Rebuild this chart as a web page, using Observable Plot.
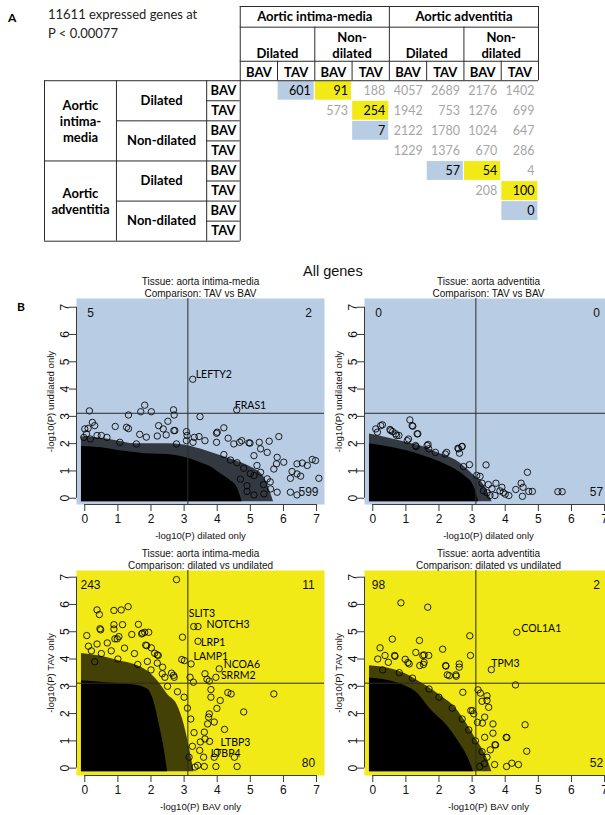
<!DOCTYPE html>
<html><head><meta charset="utf-8">
<script src="https://cdn.jsdelivr.net/npm/d3@7"></script>
<script src="https://cdn.jsdelivr.net/npm/@observablehq/plot@0.6"></script>
<style>
body{margin:0;background:#fff;}
#fig{position:relative;width:605px;height:815px;overflow:hidden;background:#fff;}
.abs{position:absolute;white-space:nowrap;}
</style></head><body><div id="fig"></div>
<script>
// ---------------- Part A data ----------------
const tissueNames = ["Aortic intima-media", "Aortic adventitia"];
const tissueRowLabels = ["Aortic\nintima-\nmedia", "Aortic\nadventitia"];
const dilationColLabels = ["Dilated", "Non-\ndilated"];
const dilationRowLabels = ["Dilated", "Non-dilated"];
const valveNames = ["BAV", "TAV"];
const overlapCounts = [
  [601, 91, 188, 4057, 2689, 2176, 1402],
  [573, 254, 1942, 753, 1276, 699],
  [7, 2122, 1780, 1024, 647],
  [1229, 1376, 670, 286],
  [57, 54, 4],
  [208, 100],
  [0]
];
const introLines = ["11611 expressed genes at", "P < 0.00077"];

// ---------------- Part B data ----------------
const threshold = -Math.log10(0.00077);
const panelTitles = [
  ["Tissue: aorta intima-media", "Comparison: TAV vs BAV"],
  ["Tissue: aorta adventitia", "Comparison: TAV vs BAV"],
  ["Tissue: aorta intima-media", "Comparison: dilated vs undilated"],
  ["Tissue: aorta adventitia", "Comparison: dilated vs undilated"]
];
const xLabels = ["-log10(P) dilated only", "-log10(P) dilated only", "-log10(P) BAV only", "-log10(P) BAV only"];
const yLabels = ["-log10(P) undilated only", "-log10(P) undilated only", "-log10(P) TAV only", "-log10(P) TAV only"];
// quadrant counts: [top-left, top-right, bottom-right]
const imTavBavCounts = [5, 2, 599];
const adTavBavCounts = [0, 0, 57];
const imDilCounts = [243, 11, 80];
const adDilCounts = [98, 2, 52];

// dense cloud envelopes [x, top y] (solid core and half-dense halo)
const imTavBavCore = [[-0.1,1.9],[0.5,1.85],[1.0,1.75],[1.5,1.68],[2.0,1.62],[2.5,1.6],[3.0,1.5],[3.4,1.35],[3.8,1.15],[4.1,0.9],[4.4,0.65],[4.6,0.4],[4.75,-0.12]];
const imTavBavHalo = [[-0.1,2.25],[0.5,2.2],[1.0,2.1],[1.5,2.0],[2.0,2.0],[2.5,2.0],[3.0,1.95],[3.5,1.8],[4.0,1.6],[4.5,1.4],[5.0,1.15],[5.4,0.8],[5.7,-0.12]];
const adTavBavCore = [[-0.1,2.0],[0.5,1.88],[1.0,1.75],[1.5,1.57],[2.0,1.35],[2.5,1.05],[2.8,0.8],[3.05,0.45],[3.2,-0.12]];
const adTavBavHalo = [[-0.1,2.35],[0.5,2.2],[1.0,2.05],[1.5,1.9],[2.0,1.65],[2.5,1.4],[3.0,0.9],[3.4,0.4],[3.6,-0.12]];
const imDilCore = [[-0.1,3.2],[0.5,3.15],[1.0,3.1],[1.5,3.05],[1.9,2.9],[2.1,2.4],[2.25,1.6],[2.4,0.7],[2.5,-0.13]];
const imDilHalo = [[-0.1,4.2],[0.5,4.1],[1.0,3.95],[1.5,3.8],[1.9,3.55],[2.2,3.2],[2.5,2.7],[2.8,2.3],[3.0,1.6],[3.15,0.8],[3.3,-0.13]];
const adDilCore = [[-0.1,3.3],[0.5,3.2],[1.0,3.0],[1.3,2.8],[1.75,2.15],[2.25,1.55],[2.55,1.05],[2.85,0.45],[3.05,-0.13]];
const adDilHalo = [[-0.1,3.75],[0.5,3.65],[1.0,3.45],[1.5,3.1],[2.0,2.7],[2.5,2.2],[2.8,1.7],[3.1,1.1],[3.4,0.5],[3.6,-0.13]];

// individually visible points [x, y]
const imTavBavPts = [[0.14,3.20],[1.81,3.41],[1.69,3.17],[2.01,3.17],[1.32,3.05],[2.68,3.24],[2.70,3.05],[3.48,2.99],[3.07,2.44],[3.09,2.30],[0.23,2.78],[0.10,2.56],[0.05,2.36],[0.92,2.63],[1.26,2.60],[1.32,2.55],[1.66,2.34],[2.23,2.66],[2.37,2.54],[2.51,2.82],[2.69,2.48],[2.46,2.32],[2.19,2.28],[3.31,2.23],[3.45,2.26],[4.00,2.42],[4.20,2.58],[3.98,2.05],[4.33,2.20],[4.50,1.99],[4.74,2.11],[4.96,2.03],[5.27,2.05],[5.57,2.09],[5.86,2.26],[5.31,1.81],[5.51,1.68],[5.11,1.56],[5.81,1.50],[5.79,1.26],[6.01,1.32],[6.41,1.26],[6.57,1.29],[6.87,1.42],[6.97,1.38],[6.26,0.98],[6.41,0.89],[6.21,0.73],[6.52,0.81],[6.72,1.20],[7.07,0.73],[6.41,0.12],[6.21,0.22],[5.61,0.34],[5.81,0.22],[5.41,0.16],[5.11,0.12],[5.31,0.95],[5.51,0.71],[4.90,0.46],[5.71,1.07],[5.11,0.83],[-0.03,2.23],[0.17,2.17],[0.37,2.30],[0.67,2.23],[0.30,2.66],[2.72,2.48],[3.63,2.11],[3.98,2.38],[4.68,2.05],[4.99,2.02],[3.27,2.05],[3.07,2.11],[2.77,1.99],[1.86,2.24],[1.56,1.99],[1.06,2.05],[0.50,2.30],[0.0,2.54],[4.6,1.3],[4.8,1.1],[5.0,0.9],[4.7,0.7],[5.2,1.2],[5.4,0.5],[4.9,0.25],[5.6,0.6],[4.4,1.4],[4.2,1.6],[3.26,4.36],[4.59,3.24]];
const adTavBavPts = [[0.24,2.66],[0.09,2.54],[1.19,2.66],[1.12,2.87],[1.34,2.36],[0.54,2.48],[0.69,2.36],[0.79,2.30],[1.04,2.11],[1.29,1.93],[1.64,1.93],[1.69,1.81],[1.89,1.68],[2.19,1.62],[2.59,1.81],[2.69,1.89],[2.62,1.65],[2.92,1.23],[2.74,1.16],[3.14,0.84],[3.24,0.80],[3.42,1.22],[3.49,0.50],[3.72,0.55],[3.84,0.27],[3.94,0.21],[4.11,0.10],[4.32,0.32],[4.48,0.55],[4.54,0.40],[4.67,0.95],[4.71,0.25],[4.82,0.25],[4.52,0.07],[5.59,0.24],[5.72,0.24],[3.34,0.27],[3.54,0.10],[3.69,0.10],[0.29,2.69],[0.14,2.42],[0.52,2.52],[0.60,2.44],[0.72,2.30],[1.21,2.64],[1.36,2.36],[1.08,2.17],[1.31,1.89],[1.67,1.97],[2.23,1.68],[2.57,1.83],[2.70,1.90],[3.3,0.55],[3.6,0.35],[3.9,0.4],[4.0,0.15],[3.45,0.2]];
const imDilPts = [[2.77,6.91],[0.37,5.80],[0.44,5.63],[0.88,5.78],[1.10,5.80],[1.31,5.92],[0.48,5.07],[0.88,5.26],[0.88,5.10],[1.14,5.26],[1.62,5.27],[1.42,4.90],[1.74,4.95],[1.81,4.98],[1.93,4.98],[0.06,4.86],[0.11,4.47],[0.37,4.55],[0.68,4.59],[0.98,4.74],[1.03,4.82],[1.84,4.51],[2.01,4.41],[2.11,4.21],[2.19,4.15],[1.89,3.91],[2.19,3.85],[2.34,3.46],[2.42,3.33],[2.62,3.48],[2.70,3.33],[2.95,4.80],[2.93,3.98],[3.01,3.94],[3.29,5.19],[3.42,5.19],[3.42,4.65],[3.21,3.82],[4.06,3.64],[3.96,3.33],[3.63,3.46],[3.76,3.19],[3.81,2.88],[3.81,2.60],[4.09,2.48],[4.32,2.77],[4.42,2.72],[5.71,2.72],[4.80,2.06],[3.99,2.19],[3.76,1.99],[3.91,1.69],[3.61,1.32],[3.71,1.62],[4.22,1.42],[3.63,1.07],[3.77,0.98],[3.49,0.96],[3.47,0.65],[3.91,0.40],[4.52,0.40],[4.60,0.06],[3.96,0.06],[3.61,0.06],[3.41,0.10],[0.46,5.11],[1.72,4.92],[0.91,4.74],[1.87,4.49],[2.22,4.13],[2.35,3.70],[2.68,3.40],[3.18,3.33],[3.28,3.15],[3.69,3.26],[3.74,1.87],[4.0,0.59],[3.59,0.40],[3.33,0.04],[0.2,4.3],[0.5,4.2],[0.8,4.3],[1.2,4.4],[1.5,4.2],[0.3,3.9],[1.0,4.0],[1.6,3.8],[2.0,3.6],[2.5,3.0],[2.8,2.8],[3.0,2.6],[3.1,2.2],[3.2,1.8],[3.3,1.3],[3.25,0.8],[3.15,0.4]];
const adDilPts = [[0.85,6.06],[1.66,5.90],[4.35,4.98],[3.58,3.61],[4.31,3.05],[2.93,4.85],[2.95,4.13],[0.59,4.73],[1.41,4.68],[2.11,4.36],[0.22,4.41],[0.67,4.10],[0.98,3.99],[1.06,3.87],[1.30,4.24],[1.51,4.13],[1.69,4.13],[1.53,3.80],[1.42,3.76],[0.15,4.00],[0.37,4.13],[0.47,3.88],[2.21,3.74],[2.61,3.82],[2.61,3.70],[2.31,3.39],[2.52,3.37],[2.72,2.78],[3.18,2.87],[3.25,2.75],[3.45,2.65],[3.45,2.48],[3.50,2.23],[3.30,2.45],[3.01,2.11],[3.05,1.99],[3.38,1.87],[3.31,1.65],[3.63,1.62],[3.63,1.28],[4.60,1.59],[4.05,1.12],[4.65,0.62],[3.71,0.85],[3.68,0.13],[4.04,0.06],[4.20,0.18],[4.40,0.13],[3.23,0.06],[3.37,0.16],[3.55,0.67],[3.45,0.40],[0.66,4.13],[1.10,3.82],[1.55,4.15],[1.55,3.88],[2.20,3.76],[2.25,3.42],[2.51,3.42],[2.96,2.11],[3.16,1.68],[3.38,1.13],[3.69,0.86],[4.03,1.13],[0.3,3.6],[0.8,3.5],[1.2,3.3],[1.7,2.9],[2.0,2.6],[2.4,2.2],[2.7,1.8],[2.9,1.4],[3.1,1.0],[3.3,0.6]];

// labelled genes
const imTavBavGenes = [{gene:"LEFTY2", x:3.26, y:4.36}, {gene:"FRAS1", x:4.59, y:3.24}];
const adTavBavGenes = [];
const imDilGenes = [{gene:"SLIT3", x:3.29, y:5.19}, {gene:"NOTCH3", x:3.42, y:5.19}, {gene:"LRP1", x:3.42, y:4.65}, {gene:"LAMP1", x:3.21, y:3.82}, {gene:"NCOA6", x:4.06, y:3.64}, {gene:"SRRM2", x:3.96, y:3.33}, {gene:"LTBP3", x:3.77, y:0.98}, {gene:"LTBP4", x:3.91, y:0.40}];
const adDilGenes = [{gene:"COL1A1", x:4.35, y:4.98}, {gene:"TPM3", x:3.58, y:3.61}];

// ---------------- styles ----------------
const BLUE = "#b8cce4", YELLOW = "#f2ea16", GRAY = "#a6a6a6", LINE = "#2b2b2b";
const labelOffset = {LEFTY2:[3,-5], FRAS1:[-2,-4.5], SLIT3:[-5,-12.5], NOTCH3:[8.5,-1.5], LRP1:[3,1], LAMP1:[2.5,-7.5], NCOA6:[4.5,-4], SRRM2:[5,-2], LTBP3:[11,1], LTBP4:[-3.5,-4], COL1A1:[4.5,-3.5], TPM3:[0,-6.5]};
const fig = document.getElementById("fig");

function place(el, left, top) {
  el.style.position = "absolute"; el.style.left = left + "px"; el.style.top = top + "px";
  fig.appendChild(el); return el;
}
function label(text, left, top, css) {
  const d = document.createElement("div"); d.className = "abs"; d.innerHTML = text; d.style.cssText += css;
  return place(d, left, top);
}

// ---------------- Part A: table ----------------
{
  const idx = d3.range(8);
  const tOf = k => k >> 2, dOf = k => (k >> 1) & 1, vOf = k => k & 1;
  const cells = overlapCounts.flatMap((row, i) => row.map((value, m) => {
    const j = i + 1 + m;
    let kind = "plain";
    if (tOf(i) === tOf(j) && dOf(i) === dOf(j) && vOf(i) !== vOf(j)) kind = "blue";
    else if (tOf(i) === tOf(j) && vOf(i) === vOf(j) && dOf(i) !== dOf(j)) kind = "yellow";
    return {i, j, value, kind};
  }));
  // table layout in column/row units
  const cT = [-5.25, -3.32], cD = [-3.32, -0.9], cV = [-0.9, 0];
  const hTop = -3.7, h1 = -2.67, h2 = -0.97;
  const hSegs = [
    {y: hTop, x1: 0, x2: 8}, {y: h1, x1: 0, x2: 8}, {y: h2, x1: 0, x2: 8}, {y: 0, x1: cT[0], x2: 8},
    {y: 8, x1: cT[0], x2: 0}, {y: 4, x1: cT[0], x2: 0},
    ...[2, 6].map(y => ({y, x1: cD[0], x2: 0})),
    ...[1, 3, 5, 7].map(y => ({y, x1: cV[0], x2: 0}))
  ];
  const vSegs = [
    {x: 0, y1: hTop, y2: 8}, {x: 8, y1: hTop, y2: 0}, {x: 4, y1: hTop, y2: 0},
    ...[2, 6].map(x => ({x, y1: h1, y2: 0})),
    ...[1, 3, 5, 7].map(x => ({x, y1: h2, y2: 0})),
    {x: cT[0], y1: 0, y2: 8}, {x: cD[0], y1: 0, y2: 8}, {x: cV[0], y1: 0, y2: 8}
  ];
  const bold = {fontWeight: "bold", fontSize: 13, fill: "black"};
  const num = d => String(d.value);
  const table = Plot.plot({
    width: 605, height: 250, marginLeft: 44, marginRight: 67, marginTop: 6, marginBottom: 9.3,
    x: {domain: [-5.25, 8], axis: null},
    y: {domain: [hTop, 8], reverse: true, axis: null},
    style: {fontFamily: "Lato, sans-serif", background: "transparent"},
    marks: [
      Plot.rect(cells.filter(c => c.kind === "blue"), {x1: "j", x2: d => d.j + 1, y1: "i", y2: d => d.i + 1, fill: BLUE, inset: 0.6}),
      Plot.rect(cells.filter(c => c.kind === "yellow"), {x1: "j", x2: d => d.j + 1, y1: "i", y2: d => d.i + 1, fill: YELLOW, inset: 0.6}),
      Plot.text(cells.filter(c => c.kind !== "plain"), {x: d => d.j + 1, y: d => d.i + 0.5, text: num, textAnchor: "end", dx: -4, fontSize: 12.5, fill: "black"}),
      Plot.text(cells.filter(c => c.kind === "plain"), {x: d => d.j + 1, y: d => d.i + 0.5, text: num, textAnchor: "end", dx: -4, fontSize: 12.5, fill: GRAY}),
      Plot.ruleY(hSegs, {y: "y", x1: "x1", x2: "x2", stroke: LINE, strokeWidth: 1}),
      Plot.ruleX(vSegs, {x: "x", y1: "y1", y2: "y2", stroke: LINE, strokeWidth: 1}),
      // column headers
      Plot.text([0, 1], {x: t => t * 4 + 2, y: (hTop + h1) / 2, text: t => tissueNames[t], ...bold}),
      Plot.text([0, 1, 2, 3], {x: g => g * 2 + 1, y: h2 - 0.18, text: g => dilationColLabels[g % 2], lineAnchor: "bottom", lineHeight: 1.2, ...bold}),
      Plot.text(idx, {x: k => k + 0.5, y: h2 / 2, dy: 1.5, text: k => valveNames[k % 2], ...bold}),
      // row headers
      Plot.text([0, 1], {x: (cT[0] + cT[1]) / 2, y: t => t * 4 + 2, text: t => tissueRowLabels[t], lineHeight: 1.25, ...bold}),
      Plot.text([0, 1, 2, 3], {x: (cD[0] + cD[1]) / 2, y: g => g * 2 + 1, text: g => dilationRowLabels[g % 2], ...bold}),
      Plot.text(idx, {x: (cV[0] + cV[1]) / 2, y: k => k + 0.5, text: k => valveNames[k % 2], ...bold})
    ]
  });
  place(table, 0, 0);
  label("A", 8, 10, "font:bold 12px Lato, sans-serif;line-height:16px;");
  label(introLines.join("<br>"), 48, 5, "font:13px Lato, sans-serif;line-height:18.5px;color:#222;");
}

// ---------------- Part B: scatter panels ----------------
function panel({pts, core, halo, genes, counts, bg, titles, xlab, ylab, yDomain, plotH, mTop, mBottom}) {
  const xDomain = [-0.25, 7.24];
  const ticks = d3.range(0, 8);
  const axisStroke = "#3a3a3a";
  const txt = {fontFamily: "Liberation Sans, Arial, sans-serif", fill: "#111"};
  const marks = [
    Plot.frame({fill: bg, stroke: null}),
    Plot.areaY(halo, {x: d => d[0], y1: -0.13, y2: d => d[1], fill: "black", fillOpacity: 0.72, curve: "monotone-x"}),
    Plot.areaY(core, {x: d => d[0], y1: -0.13, y2: d => d[1], fill: "black", curve: "monotone-x"}),
    Plot.dot(pts, {x: d => d[0], y: d => d[1], r: 3.2, stroke: "black", strokeWidth: 0.85, fill: "none"}),
    Plot.ruleX([threshold], {stroke: LINE, strokeWidth: 1}),
    Plot.ruleY([threshold], {stroke: LINE, strokeWidth: 1}),
    // axes
    Plot.ruleY([yDomain[0]], {x1: 0, x2: 7, stroke: axisStroke}),
    Plot.ruleX([xDomain[0]], {y1: 0, y2: 7, stroke: axisStroke}),
    Plot.axisX({ticks, tickSize: 7, tickPadding: 3, fontSize: 12, label: null, stroke: axisStroke, ...txt}),
    Plot.axisY({ticks, tickSize: 7, tickPadding: 1, tickRotate: -90, fontSize: 12, label: null, stroke: axisStroke, ...txt}),
    // titles & axis labels
    Plot.text([titles[0]], {frameAnchor: "top", dy: -16.5, lineAnchor: "middle", fontSize: 10, ...txt}),
    Plot.text([titles[1]], {frameAnchor: "top", dy: -4.3, lineAnchor: "middle", fontSize: 10, ...txt}),
    Plot.text([xlab], {frameAnchor: "bottom", dy: 31.5, lineAnchor: "middle", fontSize: 9.6, ...txt}),
    Plot.text([ylab], {frameAnchor: "left", dx: -26, rotate: -90, textAnchor: "middle", lineAnchor: "middle", fontSize: 9.6, ...txt}),
    // quadrant counts
    Plot.text([counts[0]], {frameAnchor: "top-left", dx: 14, dy: 15, textAnchor: "middle", lineAnchor: "middle", fontSize: 12, ...txt}),
    Plot.text([counts[1]], {frameAnchor: "top-right", dx: -16, dy: 15, textAnchor: "middle", lineAnchor: "middle", fontSize: 12, ...txt}),
    Plot.text([counts[2]], {frameAnchor: "bottom-right", dx: -16, dy: -12, textAnchor: "middle", lineAnchor: "middle", fontSize: 12, ...txt}),
    // gene labels
    ...genes.map(g => Plot.text([g], {x: "x", y: "y", text: "gene", dx: labelOffset[g.gene][0], dy: labelOffset[g.gene][1], textAnchor: "start", lineAnchor: "middle", fontSize: 10.5, fontFamily: "Lato, sans-serif", fill: "black"}))
  ];
  return Plot.plot({
    width: 324, height: mTop + plotH + mBottom, marginLeft: 76, marginRight: 0, marginTop: mTop, marginBottom: mBottom,
    x: {domain: xDomain}, y: {domain: yDomain},
    style: {background: "transparent", overflow: "visible"},
    marks
  });
}

const topCfg = {yDomain: [-0.23, 7.32], plotH: 206, mTop: 28, mBottom: 42};
const botCfg = {yDomain: [-0.27, 7.245], plotH: 205, mTop: 30, mBottom: 45};
place(panel({pts: imTavBavPts, core: imTavBavCore, halo: imTavBavHalo, genes: imTavBavGenes, counts: imTavBavCounts, bg: BLUE, titles: panelTitles[0], xlab: xLabels[0], ylab: yLabels[0], ...topCfg}), 0, 270);
place(panel({pts: adTavBavPts, core: adTavBavCore, halo: adTavBavHalo, genes: adTavBavGenes, counts: adTavBavCounts, bg: BLUE, titles: panelTitles[1], xlab: xLabels[1], ylab: yLabels[1], ...topCfg}), 288, 270);
place(panel({pts: imDilPts, core: imDilCore, halo: imDilHalo, genes: imDilGenes, counts: imDilCounts, bg: YELLOW, titles: panelTitles[2], xlab: xLabels[2], ylab: yLabels[2], ...botCfg}), 0, 540);
place(panel({pts: adDilPts, core: adDilCore, halo: adDilHalo, genes: adDilGenes, counts: adDilCounts, bg: YELLOW, titles: panelTitles[3], xlab: xLabels[3], ylab: yLabels[3], ...botCfg}), 288, 540);

label("All genes", 303, 262, "font:14.5px 'Liberation Sans', Arial, sans-serif;line-height:18px;color:#111;");
label("B", 17, 299, "font:bold 12px Lato, sans-serif;line-height:16px;");
</script></body></html>
